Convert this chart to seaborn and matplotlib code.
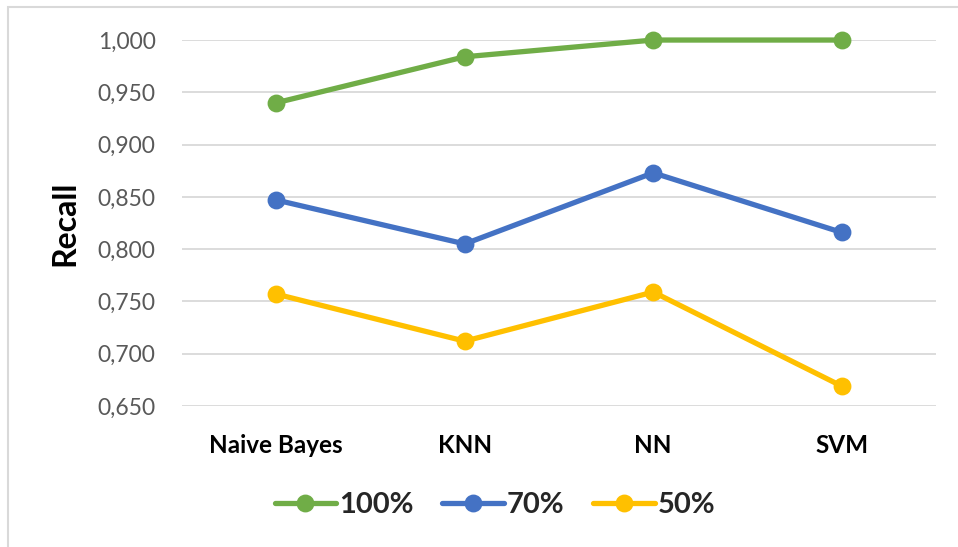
import matplotlib
matplotlib.use("Agg")
import matplotlib.pyplot as plt
from matplotlib.patches import Rectangle
from matplotlib.ticker import FuncFormatter, MultipleLocator
import pandas as pd
import seaborn as sns

# Classifiers and recall per training-set fraction
classifiers = ["Naive Bayes", "KNN", "NN", "SVM"]
series_names = ["100%", "70%", "50%"]
recall_100 = [0.940, 0.984, 1.000, 1.000]
recall_70 = [0.847, 0.805, 0.873, 0.816]
recall_50 = [0.757, 0.712, 0.759, 0.669]
colors = ["#70AD47", "#4472C4", "#FFC000"]

df = pd.DataFrame({
    "Classifier": classifiers * 3,
    "Recall": recall_100 + recall_70 + recall_50,
    "Split": [s for s in series_names for _ in classifiers],
})

sns.set_theme(style="white")
plt.rcParams["font.family"] = ["Lato", "DejaVu Sans"]

fig = plt.figure(figsize=(9.58, 5.47), dpi=100)
ax = fig.add_axes([0.19, 0.2578, 0.787, 0.669])

sns.pointplot(
    data=df, x="Classifier", y="Recall", hue="Split",
    hue_order=series_names, palette=colors, ax=ax,
    markers="o", markersize=10, linewidth=3.8, errorbar=None,
)
for art in ax.lines + ax.collections:
    art.set_clip_on(False)

ax.set_ylim(0.650, 1.000)
ax.set_xlim(-0.5, 3.5)
ax.yaxis.set_major_locator(MultipleLocator(0.05))
ax.yaxis.set_major_formatter(FuncFormatter(lambda v, _: f"{v:.3f}".replace(".", ",")))
ax.grid(axis="y", color="#D9D9D9", linewidth=1.3)
ax.set_axisbelow(True)
for s in ax.spines.values():
    s.set_visible(False)
ax.tick_params(axis="y", length=0, pad=19, labelsize=16.5, labelcolor="#595959")
ax.tick_params(axis="x", length=0, pad=20, labelsize=17.5)
for lbl in ax.get_xticklabels():
    lbl.set_fontweight("bold")
    lbl.set_color("black")
ax.set_xlabel("")
ax.set_ylabel("Recall", fontsize=23, fontweight="bold", color="black", labelpad=13)

leg = ax.legend(
    loc="center", bbox_to_anchor=(0.415, -0.27), ncol=3, frameon=False,
    prop={"weight": "bold", "size": 21}, handlelength=2.1,
    handletextpad=0.1, columnspacing=1.0,
)
for h in leg.legend_handles:
    h.set_linewidth(3.8)
    h.set_markersize(10)

# Light frame around the chart area
fig.add_artist(Rectangle((8 / 958, -0.1), 1.2, 1 - 7 / 547 + 0.1,
                         transform=fig.transFigure, fill=False,
                         edgecolor="#D9D9D9", linewidth=1.5))

fig.savefig("out.png", dpi=100)
